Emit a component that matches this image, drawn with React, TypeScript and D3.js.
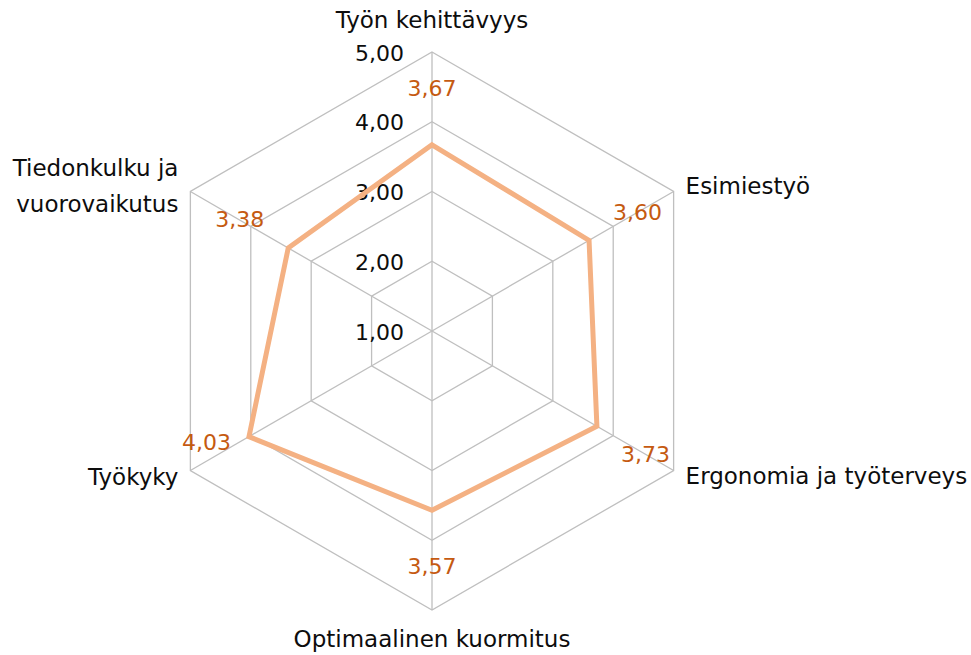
import React from "react";
import * as d3 from "d3";

const categories = [
  "Työn kehittävyys",
  "Esimiestyö",
  "Ergonomia ja työterveys",
  "Optimaalinen kuormitus",
  "Työkyky",
  "Tiedonkulku ja vuorovaikutus",
];
const values = [3.67, 3.6, 3.73, 3.57, 4.03, 3.38];
const ticks = [1, 2, 3, 4, 5];

// layout (not data)
const W = 971;
const H = 655;
const cx = 432;
const cy = 331;
const R = 279;
const FONT = "'DejaVu Sans', sans-serif";
const labelNudge: [number, number][] = [
  [0, 0],
  [0, 0],
  [0, 0],
  [0, 0],
  [6, -22],
  [0, 0],
];

const fmt = (v: number) => v.toFixed(2).replace(".", ",");

export default function App() {
  const r = d3.scaleLinear().domain([1, 5]).range([0, R]);
  const angle = d3
    .scaleLinear()
    .domain([0, categories.length])
    .range([0, 2 * Math.PI]);
  const pt = (i: number, rad: number): [number, number] => [
    cx + rad * Math.sin(angle(i)),
    cy - rad * Math.cos(angle(i)),
  ];
  const line = d3.line().curve(d3.curveLinearClosed);

  const rings = ticks.filter((t) => t > 1);
  const outer = categories.map((_, i) => pt(i, r(5)));
  const dataPts = values.map((v, i) => pt(i, r(v)));

  const axisLabel = (i: number) => {
    const [vx, vy] = outer[i];
    const common = { fontFamily: FONT, fontSize: 23, fill: "#0d0d0d" };
    switch (i) {
      case 0:
        return (
          <text key={i} x={vx} y={vy - 24} textAnchor="middle" {...common}>
            {categories[i]}
          </text>
        );
      case 1:
        return (
          <text key={i} x={vx + 12} y={vy + 2} {...common}>
            {categories[i]}
          </text>
        );
      case 2:
        return (
          <text key={i} x={vx + 12} y={vy + 13} {...common}>
            {categories[i]}
          </text>
        );
      case 3:
        return (
          <text key={i} x={vx} y={vy + 37} textAnchor="middle" {...common}>
            {categories[i]}
          </text>
        );
      case 4:
        return (
          <text key={i} x={vx - 12} y={vy + 14} textAnchor="end" {...common}>
            {categories[i]}
          </text>
        );
      default: {
        const words = categories[i].split(" ");
        return (
          <text key={i} textAnchor="end" {...common}>
            <tspan x={vx - 12} y={vy - 16}>
              {words.slice(0, 2).join(" ")}
            </tspan>
            <tspan x={vx - 12} y={vy + 20}>
              {words.slice(2).join(" ")}
            </tspan>
          </text>
        );
      }
    }
  };

  return (
    <svg width={W} height={H} style={{ position: "absolute", left: 0, top: 0 }}>
      <rect width={W} height={H} fill="#fff" />
      {rings.map((t) => (
        <path
          key={t}
          d={line(categories.map((_, i) => pt(i, r(t)))) || ""}
          fill="none"
          stroke="#bfbfbf"
          strokeWidth={1.3}
        />
      ))}
      {outer.map(([x, y], i) => (
        <line key={i} x1={cx} y1={cy} x2={x} y2={y} stroke="#bfbfbf" strokeWidth={1.3} />
      ))}
      {ticks.map((t) => (
        <text
          key={t}
          x={cx - 28}
          y={cy - r(t) + 1}
          textAnchor="end"
          dominantBaseline="central"
          fontFamily={FONT}
          fontSize={22}
          fill="#0d0d0d"
        >
          {fmt(t)}
        </text>
      ))}
      <path
        d={line(dataPts) || ""}
        fill="none"
        stroke="#F4B183"
        strokeWidth={5}
        strokeLinejoin="miter"
      />
      {values.map((v, i) => {
        const [x, y] = pt(i, r(v) + 56);
        return (
          <text
            key={i}
            x={x + labelNudge[i][0]}
            y={y + labelNudge[i][1]}
            textAnchor="middle"
            dominantBaseline="central"
            fontFamily={FONT}
            fontSize={22}
            fill="#C55A11"
          >
            {fmt(v)}
          </text>
        );
      })}
      {categories.map((_, i) => axisLabel(i))}
    </svg>
  );
}
